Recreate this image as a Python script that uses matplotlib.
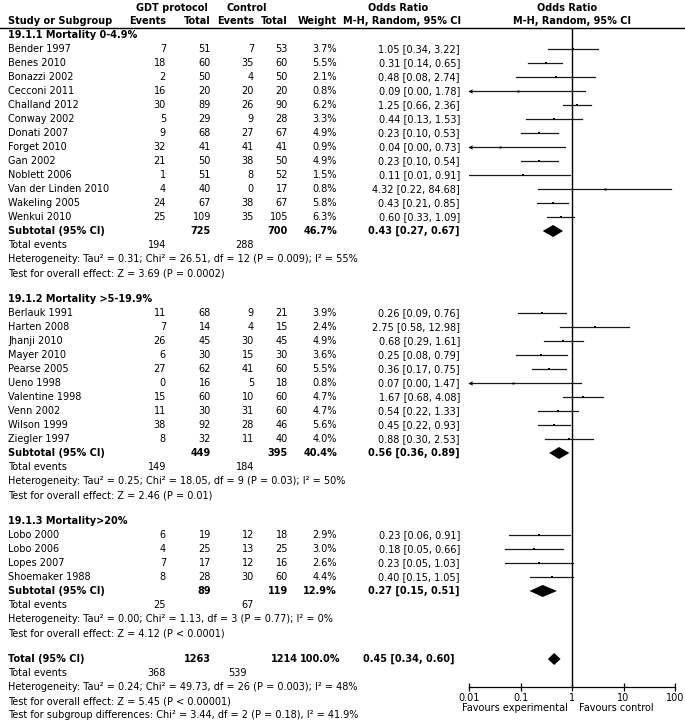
import numpy as np
import matplotlib
matplotlib.use('Agg')
import matplotlib.pyplot as plt
from matplotlib.ticker import FixedLocator, FixedFormatter, NullLocator

# figure size in pixels
W, H = 685, 722

# ---- study level data ----
study = ['Bender 1997', 'Benes 2010', 'Bonazzi 2002', 'Cecconi 2011', 'Challand 2012',
         'Conway 2002', 'Donati 2007', 'Forget 2010', 'Gan 2002', 'Noblett 2006',
         'Van der Linden 2010', 'Wakeling 2005', 'Wenkui 2010',
         'Berlauk 1991', 'Harten 2008', 'Jhanji 2010', 'Mayer 2010', 'Pearse 2005',
         'Ueno 1998', 'Valentine 1998', 'Venn 2002', 'Wilson 1999', 'Ziegler 1997',
         'Lobo 2000', 'Lobo 2006', 'Lopes 2007', 'Shoemaker 1988']
group_size = [13, 10, 4]
ev_exp = [7, 18, 2, 16, 30, 5, 9, 32, 21, 1, 4, 24, 25,
          11, 7, 26, 6, 27, 0, 15, 11, 38, 8,
          6, 4, 7, 8]
n_exp = [51, 60, 50, 20, 89, 29, 68, 41, 50, 51, 40, 67, 109,
         68, 14, 45, 30, 62, 16, 60, 30, 92, 32,
         19, 25, 17, 28]
ev_ctl = [7, 35, 4, 20, 26, 9, 27, 41, 38, 8, 0, 38, 35,
          9, 4, 30, 15, 41, 5, 10, 31, 28, 11,
          12, 13, 12, 30]
n_ctl = [53, 60, 50, 20, 90, 28, 67, 41, 50, 52, 17, 67, 105,
         21, 15, 45, 30, 60, 18, 60, 60, 46, 40,
         18, 25, 16, 60]
weight = [3.7, 5.5, 2.1, 0.8, 6.2, 3.3, 4.9, 0.9, 4.9, 1.5, 0.8, 5.8, 6.3,
          3.9, 2.4, 4.9, 3.6, 5.5, 0.8, 4.7, 4.7, 5.6, 4.0,
          2.9, 3.0, 2.6, 4.4]
or_est = [1.05, 0.31, 0.48, 0.09, 1.25, 0.44, 0.23, 0.04, 0.23, 0.11, 4.32, 0.43, 0.60,
          0.26, 2.75, 0.68, 0.25, 0.36, 0.07, 1.67, 0.54, 0.45, 0.88,
          0.23, 0.18, 0.23, 0.40]
or_lo = [0.34, 0.14, 0.08, 0.00, 0.66, 0.13, 0.10, 0.00, 0.10, 0.01, 0.22, 0.21, 0.33,
         0.09, 0.58, 0.29, 0.08, 0.17, 0.00, 0.68, 0.22, 0.22, 0.30,
         0.06, 0.05, 0.05, 0.15]
or_hi = [3.22, 0.65, 2.74, 1.78, 2.36, 1.53, 0.53, 0.73, 0.54, 0.91, 84.68, 0.85, 1.09,
         0.76, 12.98, 1.61, 0.79, 0.75, 1.47, 4.08, 1.33, 0.93, 2.53,
         0.91, 0.66, 1.03, 1.05]

# ---- subgroup data ----
sub_title = ['19.1.1 Mortality 0-4.9%', '19.1.2 Mortality >5-19.9%', '19.1.3 Mortality>20%']
sub_n_exp = [725, 449, 89]
sub_n_ctl = [700, 395, 119]
sub_weight = [46.7, 40.4, 12.9]
sub_or = [0.43, 0.56, 0.27]
sub_lo = [0.27, 0.36, 0.15]
sub_hi = [0.67, 0.89, 0.51]
sub_ev_exp = [194, 149, 25]
sub_ev_ctl = [288, 184, 67]
sub_het = ['Heterogeneity: Tau² = 0.31; Chi² = 26.51, df = 12 (P = 0.009); I² = 55%',
           'Heterogeneity: Tau² = 0.25; Chi² = 18.05, df = 9 (P = 0.03); I² = 50%',
           'Heterogeneity: Tau² = 0.00; Chi² = 1.13, df = 3 (P = 0.77); I² = 0%']
sub_test = ['Test for overall effect: Z = 3.69 (P = 0.0002)',
            'Test for overall effect: Z = 2.46 (P = 0.01)',
            'Test for overall effect: Z = 4.12 (P < 0.0001)']

# ---- overall ----
tot_n = [1263, 1214]
tot_weight = 100.0
tot_or = [0.45, 0.34, 0.60]
tot_ev = [368, 539]
tot_text = ['Heterogeneity: Tau² = 0.24; Chi² = 49.73, df = 26 (P = 0.003); I² = 48%',
            'Test for overall effect: Z = 5.45 (P < 0.00001)',
            'Test for subgroup differences: Chi² = 3.44, df = 2 (P = 0.18), I² = 41.9%']

ticks = [0.01, 0.1, 1, 10, 100]
tick_labels = ['0.01', '0.1', '1', '10', '100']

# column right edges (pixels)
x_name = 8
x_ev_e, x_n_e, x_ev_c, x_n_c, x_w, x_or = 166, 211, 254, 288, 337, 460
fs = 7.0
plt.rcParams['font.family'] = ['DejaVu Sans']
plt.rcParams['font.size'] = fs

fig = plt.figure(figsize=(W / 100, H / 100), dpi=100)
ax = fig.add_axes([0, 0, 1, 1])
ax.set_xlim(0, W)
ax.set_ylim(H, 0)
ax.axis('off')

# forest plot axes (log scale)
y_top, y_axis = 28, 687
fx = fig.add_axes([469 / W, (H - y_axis) / H, 206 / W, (y_axis - y_top) / H])
fx.patch.set_alpha(0)
fx.set_xscale('log')
fx.set_xlim(ticks[0], ticks[-1])
fx.set_ylim(y_axis, y_top)
for s in ['top', 'left', 'right']:
    fx.spines[s].set_visible(False)
fx.spines['bottom'].set_linewidth(0.9)
fx.xaxis.set_major_locator(FixedLocator(ticks))
fx.xaxis.set_major_formatter(FixedFormatter(tick_labels))
fx.xaxis.set_minor_locator(NullLocator())
fx.set_yticks([])
fx.tick_params(axis='x', direction='inout', length=6, width=0.9, pad=1, labelsize=fs)
fx.axvline(1, color='black', lw=1)

def txt(x, y, s, ha='left', bold=False):
    ax.text(x, y, s, ha=ha, va='center', fontsize=fs,
            fontweight='bold' if bold else 'normal')

# header
ax.text(172, 8, 'GDT protocol', ha='center', va='center', fontweight='bold')
ax.text(247, 8, 'Control', ha='center', va='center', fontweight='bold')
ax.text(398, 8, 'Odds Ratio', ha='center', va='center', fontweight='bold')
ax.text(567, 8, 'Odds Ratio', ha='center', va='center', fontweight='bold')
txt(x_name, 21, 'Study or Subgroup', bold=True)
txt(x_ev_e, 21, 'Events', 'right', True)
txt(x_n_e, 21, 'Total', 'right', True)
txt(x_ev_c, 21, 'Events', 'right', True)
txt(x_n_c, 21, 'Total', 'right', True)
txt(x_w, 21, 'Weight', 'right', True)
ax.text(402, 21, 'M-H, Random, 95% CI', ha='center', va='center', fontweight='bold')
ax.text(572, 21, 'M-H, Random, 95% CI', ha='center', va='center', fontweight='bold')
ax.axhline(y_top, color='black', lw=1)

def ci_str(e, l, h):
    return f'{e:.2f} [{l:.2f}, {h:.2f}]'

def diamond(y, e, l, h):
    fx.fill([l, e, h, e], [y, y - 6, y, y + 6], color='black', lw=0)

step, gap = 14, 12
y = 35
i0 = 0
for g, n in enumerate(group_size):
    txt(x_name, y, sub_title[g], bold=True)
    y += step
    for i in range(i0, i0 + n):
        txt(x_name, y, study[i])
        txt(x_ev_e, y, str(ev_exp[i]), 'right')
        txt(x_n_e, y, str(n_exp[i]), 'right')
        txt(x_ev_c, y, str(ev_ctl[i]), 'right')
        txt(x_n_c, y, str(n_ctl[i]), 'right')
        txt(x_w, y, f'{weight[i]:.1f}%', 'right')
        txt(x_or, y, ci_str(or_est[i], or_lo[i], or_hi[i]), 'right')
        lo = max(or_lo[i], ticks[0])
        fx.plot([lo, or_hi[i]], [y, y], color='#1a1a1a', lw=0.9)
        fx.plot(or_est[i], y, 's', color='black', ms=1.3 + 0.12 * weight[i], mew=0)
        if or_lo[i] < ticks[0]:
            fx.plot(lo * 1.04, y, '<', color='black', ms=3, mew=0, clip_on=False)
        y += step
    i0 += n
    txt(x_name, y, 'Subtotal (95% CI)', bold=True)
    txt(x_n_e, y, str(sub_n_exp[g]), 'right', True)
    txt(x_n_c, y, str(sub_n_ctl[g]), 'right', True)
    txt(x_w, y, f'{sub_weight[g]:.1f}%', 'right', True)
    txt(x_or, y, ci_str(sub_or[g], sub_lo[g], sub_hi[g]), 'right', True)
    diamond(y, sub_or[g], sub_lo[g], sub_hi[g])
    y += step
    txt(x_name, y, 'Total events')
    txt(x_ev_e, y, str(sub_ev_exp[g]), 'right')
    txt(x_ev_c, y, str(sub_ev_ctl[g]), 'right')
    y += step
    txt(x_name, y, sub_het[g])
    y += step
    txt(x_name, y, sub_test[g])
    y += step + gap

# overall total
txt(x_name, y, 'Total (95% CI)', bold=True)
txt(x_n_e, y, str(tot_n[0]), 'right', True)
txt(298, y, str(tot_n[1]), 'right', True)
txt(340, y, f'{tot_weight:.1f}%', 'right', True)
txt(455, y, ci_str(*tot_or), 'right', True)
diamond(y, *tot_or)
y += step
txt(x_name, y, 'Total events')
txt(x_ev_e, y, str(tot_ev[0]), 'right')
txt(247, y, str(tot_ev[1]), 'right')
for line in tot_text:
    y += step
    txt(x_name, y, line)

ax.text(515, 708, 'Favours experimental', ha='center', va='center')
ax.text(616, 708, 'Favours control', ha='center', va='center')

fig.savefig('out.png', dpi=100)
